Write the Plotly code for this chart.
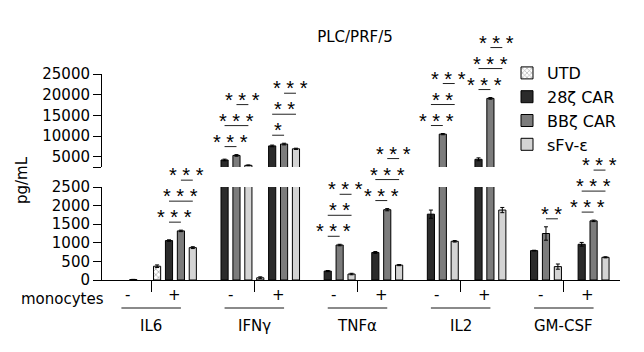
import plotly.graph_objects as go

# ---------------- data ----------------
cytokines = ["IL6", "IFNγ", "TNFα", "IL2", "GM-CSF"]
conditions = ["-", "+"]
groups = ["UTD", "28ζ CAR", "BBζ CAR", "sFv-ε"]

# values ordered: IL6-, IL6+, IFNγ-, IFNγ+, TNFα-, TNFα+, IL2-, IL2+, GM-CSF-, GM-CSF+
utd = [0, 370, 0, 60, 0, 0, 0, 0, 0, 0]
car28 = [0, 1060, 4200, 7600, 240, 740, 1770, 4360, 790, 960]
bbz = [12, 1320, 5300, 8050, 940, 1890, 10450, 19100, 1250, 1590]
sfv = [0, 870, 2900, 6900, 160, 400, 1040, 1880, 360, 610]

utd_err = [0, 35, 0, 25, 0, 0, 0, 0, 0, 0]
car28_err = [0, 20, 200, 200, 15, 25, 110, 350, 10, 50]
bbz_err = [5, 20, 200, 200, 20, 30, 150, 200, 180, 20]
sfv_err = [0, 25, 100, 150, 20, 15, 20, 70, 70, 15]

# significance: (cytokine, condition, group a, group b, label, level)
sig = [
    (0, 1, 1, 2, "***", 0), (0, 1, 1, 3, "***", 1), (0, 1, 2, 3, "***", 2),
    (1, 0, 1, 2, "***", 0), (1, 0, 1, 3, "***", 1), (1, 0, 2, 3, "***", 2),
    (1, 1, 1, 2, "*", 0), (1, 1, 1, 3, "**", 1), (1, 1, 2, 3, "***", 2),
    (2, 0, 1, 2, "***", 0), (2, 0, 1, 3, "**", 1), (2, 0, 2, 3, "***", 2),
    (2, 1, 1, 2, "***", 0), (2, 1, 1, 3, "***", 1), (2, 1, 2, 3, "***", 2),
    (3, 0, 1, 2, "***", 0), (3, 0, 1, 3, "**", 1), (3, 0, 2, 3, "***", 2),
    (3, 1, 1, 2, "***", 0), (3, 1, 1, 3, "***", 1), (3, 1, 2, 3, "***", 2),
    (4, 0, 2, 3, "**", 0),
    (4, 1, 1, 2, "***", 0), (4, 1, 1, 3, "***", 1), (4, 1, 2, 3, "***", 2),
]

series = [utd, car28, bbz, sfv]
errors = [utd_err, car28_err, bbz_err, sfv_err]
colors = ["white", "#2b2b2b", "#7c7c7c", "#d4d4d4"]

# ---------------- layout constants ----------------
W, H = 644, 352
ML, MR, MT, MB = 102, 24, 74, 72
PH = H - MT - MB
PW = W - ML - MR
SEG = 93  # px of each axis segment
D0 = SEG / PH
D1 = (PH - SEG) / PH
BREAK, TOP = 2500, 25000
STRIDE = 8.67
X0, X1 = -0.63, 42.9
FONT = "DejaVu Sans"


def xpos(c, m, g):
    return c * STRIDE + m * 4 + g


def disp(v):
    if v <= BREAK:
        return D0 * v / BREAK
    return D1 + (1 - D1) * (v - BREAK) / (TOP - BREAK)


fig = go.Figure()
for gi, (name, vals, errs, col) in enumerate(zip(groups, series, errors, colors)):
    xs, ys, es = [], [], []
    for c in range(len(cytokines)):
        for m in range(2):
            k = c * 2 + m
            xs.append(xpos(c, m, gi))
            ys.append(vals[k] if vals[k] > 0 else None)
            es.append(errs[k] if vals[k] > 0 else None)
    for yax, show in (("y", True), ("y2", False)):
        marker = dict(color=col, line=dict(color="black", width=1))
        if gi == 0:
            marker["pattern"] = dict(shape="x", fgcolor="#555555", bgcolor="white", size=4, solidity=0.35)
        fig.add_trace(go.Bar(
            x=xs, y=ys, width=0.6, name=name, yaxis=yax, xaxis="x",
            marker=marker, showlegend=show, legendgroup=name,
            error_y=dict(type="data", array=es, visible=True, color="black", thickness=1, width=2),
        ))

shapes = []
annotations = []

# significance brackets
for (c, m, a, b, lab, lev) in sig:
    k = c * 2 + m
    top = max(series[g][k] + errors[g][k] for g in range(4))
    yl = disp(top) + (8 + 21 * lev) / PH
    xa, xb = xpos(c, m, a), xpos(c, m, b)
    shapes.append(dict(type="line", xref="x", yref="paper", x0=xa, x1=xb, y0=yl, y1=yl,
                       line=dict(color="#222222", width=1)))
    annotations.append(dict(xref="x", yref="paper", x=(xa + xb) / 2, y=yl + 5 / PH,
                            text=" ".join(lab), showarrow=False, xanchor="center", yanchor="middle",
                            font=dict(family="Liberation Sans", size=20, color="black")))

# x labels below axis
for c, cname in enumerate(cytokines):
    for m, sym in enumerate(conditions):
        annotations.append(dict(xref="x", yref="paper", x=c * STRIDE + 1.5 + 4 * m, y=-15 / PH,
                                xanchor="center", yanchor="middle", text=sym, showarrow=False,
                                font=dict(family=FONT, size=15, color="black")))
    shapes.append(dict(type="line", xref="x", yref="paper", x0=c * STRIDE + 1.0, x1=c * STRIDE + 6.0,
                       y0=-28 / PH, y1=-28 / PH, line=dict(color="#8a8a8a", width=2)))
    annotations.append(dict(xref="x", yref="paper", x=c * STRIDE + 3.5, y=-46 / PH,
                            xanchor="center", yanchor="middle",
                            text=cname, showarrow=False, font=dict(family=FONT, size=15, color="black")))

annotations.append(dict(xref="paper", yref="paper", x=(62 - ML) / PW, y=-19 / PH,
                        xanchor="center", yanchor="middle",
                        text="monocytes", showarrow=False, font=dict(family=FONT, size=15, color="black")))
annotations.append(dict(xref="paper", yref="paper", x=(22 - ML) / PW, y=(PH - (180 - MT)) / PH,
                        xanchor="center", yanchor="middle", text="pg/mL", textangle=-90, showarrow=False,
                        font=dict(family=FONT, size=15, color="black")))

seps = [c * STRIDE + 3.5 for c in range(len(cytokines))]
axis_common = dict(showline=True, linecolor="black", linewidth=1, ticks="outside", ticklen=8,
                   tickcolor="black", showgrid=False, zeroline=False,
                   tickfont=dict(family=FONT, size=15, color="black"), anchor="x")

fig.update_layout(
    width=W, height=H,
    margin=dict(l=ML, r=MR, t=MT, b=MB, autoexpand=False),
    paper_bgcolor="white", plot_bgcolor="white",
    barmode="overlay",
    title=dict(text="PLC/PRF/5", x=355 / W, y=1 - 37 / H, xanchor="center", yanchor="middle",
               font=dict(family=FONT, size=15, color="black")),
    xaxis=dict(range=[X0, X1], showline=True, linecolor="black", linewidth=1, tickvals=seps,
               ticks="outside", ticklen=11, tickcolor="black", showticklabels=False,
               showgrid=False, zeroline=False),
    yaxis=dict(domain=[0, D0], range=[0, BREAK], tickvals=[0, 500, 1000, 1500, 2000, 2500],
               ticktext=["0", "500", "1000", "1500", "2000", "2500"], **axis_common),
    yaxis2=dict(domain=[D1, 1], range=[BREAK, TOP], tickvals=[2500, 5000, 10000, 15000, 20000, 25000],
                ticktext=["", "5000", "10000", "15000", "20000", "25000"], **axis_common),
    legend=dict(x=(507 - ML) / PW, y=(PH + (MT - 56)) / PH, xanchor="left", yanchor="top",
                bgcolor="rgba(0,0,0,0)", font=dict(family=FONT, size=16, color="black"),
                traceorder="normal"),
    shapes=shapes, annotations=annotations,
)

fig.write_html("out.html")
